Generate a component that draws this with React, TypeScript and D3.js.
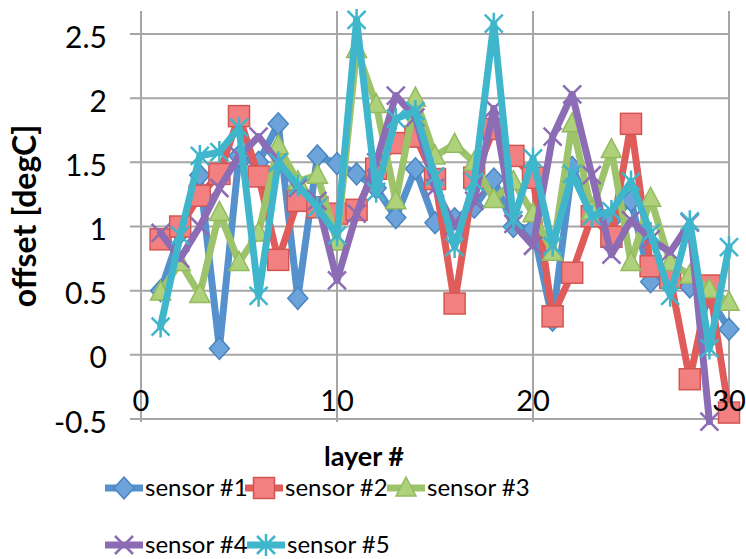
import React from "react";
import * as d3 from "d3";

const layers = d3.range(1, 31);
const sensor1 = [0.5, 0.95, 1.4, 0.05, 1.55, 1.5, 1.8, 0.44, 1.55, 1.49, 1.41, 1.3, 1.07, 1.45, 1.03, 1.06, 1.15, 1.37, 1.0, 0.98, 0.27, 1.46, 1.12, 1.05, 1.2, 0.57, 0.6, 0.53, 0.45, 0.2];
const sensor2 = [0.9, 1.0, 1.24, 1.41, 1.86, 1.39, 0.74, 1.2, 1.15, 1.1, 1.13, 1.45, 1.65, 1.7, 1.37, 0.4, 1.38, 1.76, 1.55, 1.38, 0.3, 0.64, 1.08, 0.92, 1.8, 0.69, 0.6, -0.19, 0.54, -0.45];
const sensor3 = [0.49, 0.72, 0.47, 1.11, 0.72, 0.95, 1.63, 1.35, 1.4, 0.88, 2.38, 1.95, 1.2, 2.0, 1.55, 1.64, 1.5, 1.21, 1.35, 1.1, 0.8, 1.8, 1.12, 1.6, 0.72, 1.22, 0.72, 0.62, 0.51, 0.41];
const sensor4 = [0.95, 0.75, 1.0, 1.3, 1.55, 1.7, 1.5, 1.3, 1.2, 0.58, 1.1, 1.5, 2.02, 1.85, 1.3, 1.0, 1.2, 1.92, 1.02, 0.85, 1.7, 2.03, 1.4, 0.78, 1.05, 0.9, 0.8, 1.03, -0.52, null];
const sensor5 = [0.22, 0.93, 1.55, 1.58, 1.77, 0.46, 1.5, 1.32, 1.15, 0.93, 2.61, 1.27, 1.84, 1.9, 1.39, 0.84, 1.35, 2.58, 1.05, 1.53, 0.85, 1.41, 1.08, 1.12, 1.35, 0.95, 0.46, 1.04, 0.05, 0.84];

const seriesNames = ["sensor #1", "sensor #2", "sensor #3", "sensor #4", "sensor #5"];
const seriesValues = [sensor1, sensor2, sensor3, sensor4, sensor5];
const xTicks = [0, 10, 20, 30];
const yTicks = [-0.5, 0, 0.5, 1, 1.5, 2, 2.5];

const styles = [
  { line: "#5591CC", fill: "#6BA3DA", stroke: "#4A85C0", shape: "diamond" },
  { line: "#E05C5A", fill: "#F28080", stroke: "#D35552", shape: "square" },
  { line: "#9DC46A", fill: "#AED27C", stroke: "#93BA5E", shape: "triangle" },
  { line: "#8C6CB4", fill: "none", stroke: "#8C6CB4", shape: "x" },
  { line: "#3FB6CB", fill: "none", stroke: "#3FB6CB", shape: "star" },
];

const FONT = "Lato, 'Open Sans', sans-serif";

function Marker({ shape, x, y, s }: { shape: string; x: number; y: number; s: any }) {
  if (shape === "diamond") {
    return <path d={`M${x},${y - 11}L${x + 10},${y}L${x},${y + 11}L${x - 10},${y}Z`} fill={s.fill} stroke={s.stroke} strokeWidth={1.5} />;
  }
  if (shape === "square") {
    return <rect x={x - 10.5} y={y - 10.5} width={21} height={21} fill={s.fill} stroke={s.stroke} strokeWidth={1.5} />;
  }
  if (shape === "triangle") {
    return <path d={`M${x},${y - 11}L${x + 10},${y + 8}L${x - 10},${y + 8}Z`} fill={s.fill} stroke={s.stroke} strokeWidth={1.5} />;
  }
  if (shape === "x") {
    return <path d={`M${x - 9},${y - 9}L${x + 9},${y + 9}M${x - 9},${y + 9}L${x + 9},${y - 9}`} stroke={s.stroke} strokeWidth={2.5} fill="none" />;
  }
  return <path d={`M${x - 9},${y - 9}L${x + 9},${y + 9}M${x - 9},${y + 9}L${x + 9},${y - 9}M${x},${y - 11}L${x},${y + 11}`} stroke={s.stroke} strokeWidth={2.5} fill="none" />;
}

export default function App() {
  const W = 746, H = 559;
  const x = d3.scaleLinear().domain([0, 30]).range([141, 729]);
  const y = d3.scaleLinear().domain([-0.5, 2.5]).range([419, 34]);
  const top = y(2.68);
  const line = d3
    .line<[number, number | null]>()
    .defined((d) => d[1] !== null)
    .x((d) => x(d[0]))
    .y((d) => y(d[1] as number));

  const legendPos = [
    [105, 488], [245, 488], [387, 488], [105, 545], [247, 545],
  ];

  return (
    <svg width={W} height={H} style={{ position: "fixed", left: 0, top: 0, background: "#fff" }}>
      {yTicks.map((t) => (
        <line key={"h" + t} x1={130} x2={729} y1={y(t)} y2={y(t)} stroke="#a6a6a6" strokeWidth={2} />
      ))}
      {xTicks.map((t) => (
        <line key={"v" + t} x1={x(t)} x2={x(t)} y1={top} y2={y(-0.5) + 3} stroke="#a6a6a6" strokeWidth={2} />
      ))}
      {yTicks.map((t) => (
        <text key={"yl" + t} x={107} y={y(t) + 6} textAnchor="end" dominantBaseline="middle" fontFamily={FONT} fontSize={30} fill="#000">
          {t < 0 ? "-" + String(Math.abs(t)) : String(t)}
        </text>
      ))}
      {seriesValues.map((vals, si) => {
        const pts: [number, number | null][] = layers.map((l, i) => [l, vals[i]]);
        return (
          <g key={si}>
            <path d={line(pts) || ""} fill="none" stroke={styles[si].line} strokeWidth={7} strokeLinejoin="round" strokeLinecap="round" />
            {pts.filter((p) => p[1] !== null).map((p, i) => (
              <Marker key={i} shape={styles[si].shape} x={x(p[0])} y={y(p[1] as number)} s={styles[si]} />
            ))}
          </g>
        );
      })}
      {xTicks.map((t) => (
        <text key={"xl" + t} x={x(t)} y={404} textAnchor="middle" dominantBaseline="middle" fontFamily={FONT} fontSize={29} fill="#000">
          {t}
        </text>
      ))}
      <text x={364} y={459} textAnchor="middle" dominantBaseline="middle" fontFamily={FONT} fontWeight="bold" fontSize={27} fill="#000">
        layer #
      </text>
      <text transform={`translate(28,216) rotate(-90)`} textAnchor="middle" dominantBaseline="middle" fontFamily={FONT} fontWeight="bold" fontSize={32} fill="#000">
        offset [degC]
      </text>
      {seriesNames.map((n, i) => {
        const [lx, ly] = legendPos[i];
        return (
          <g key={n}>
            <line x1={lx} x2={lx + 38} y1={ly} y2={ly} stroke={styles[i].line} strokeWidth={7} />
            <Marker shape={styles[i].shape} x={lx + 19} y={ly} s={styles[i]} />
            <text x={lx + 40} y={ly + 2} dominantBaseline="middle" fontFamily={FONT} fontSize={24} fill="#000">
              {n}
            </text>
          </g>
        );
      })}
    </svg>
  );
}
